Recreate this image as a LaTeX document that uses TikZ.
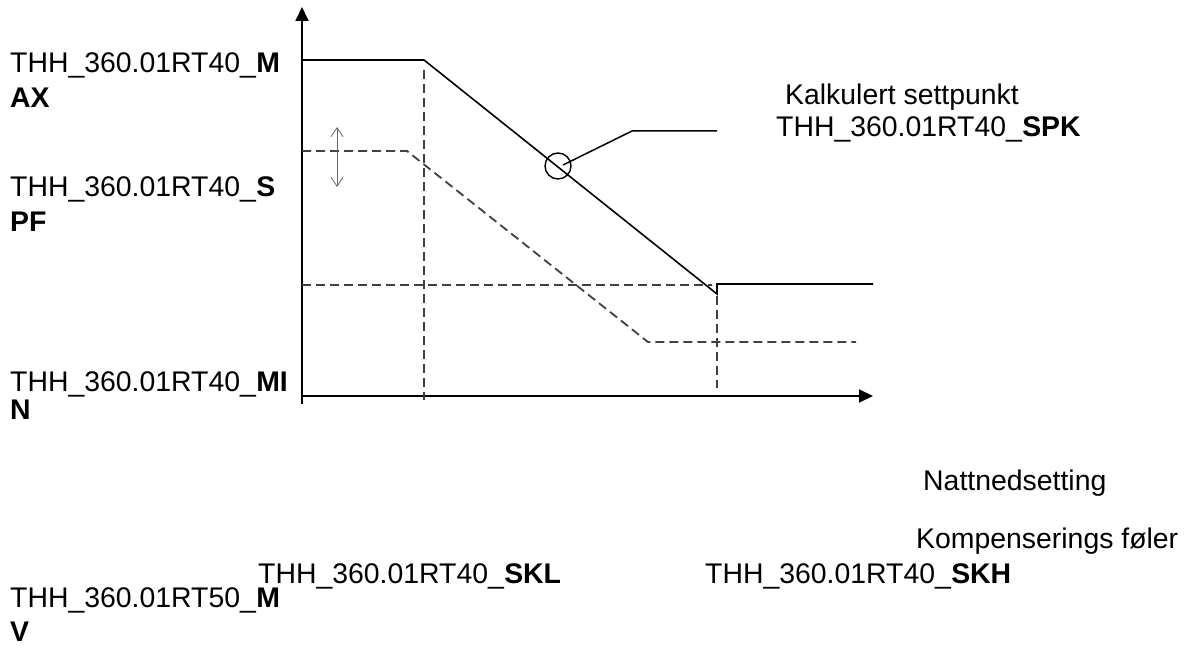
\documentclass[tikz,border=0pt]{standalone}
\usepackage{fontspec}
\setmainfont{Liberation Sans}
\usetikzlibrary{arrows.meta}
\begin{document}
\begin{tikzpicture}[x=1pt,y=-1pt,
  lbl/.style={anchor=base west,inner sep=0pt,font=\fontsize{28.4}{34}\selectfont},
  solidln/.style={line width=1.6pt,black},
  dashln/.style={line width=1.8pt,black!75,dash pattern=on 9pt off 5pt},
  axisln/.style={line width=1.8pt,-{Triangle[length=14pt,width=13pt]}},
  adjarrow/.style={line width=0.8pt,black!60,{Straight Barb[length=9pt,width=12pt]}-{Straight Barb[length=9pt,width=12pt]}}]
\useasboundingbox (0,0) rectangle (1197,652);
% axes
\coordinate (O) at (302,396);
\coordinate (ytop) at (302,7);
\coordinate (ybot) at (302,404);
\coordinate (xend) at (873,396);
\draw[axisln] (ybot) -- (ytop);
\draw[axisln] (O) -- (xend);
% calculated setpoint (solid)
\coordinate (s1) at (302,60);
\coordinate (s2) at (424,60);
\coordinate (s3) at (717,294);
\coordinate (s4) at (717,284);
\coordinate (s5) at (873,284);
\draw[solidln] (s1) -- (s2) -- (s3) -- (s4) -- (s5);
% shifted setpoint (dashed)
\coordinate (d1) at (302,151);
\coordinate (d2) at (407,151);
\coordinate (d3) at (648,342);
\coordinate (d4) at (856,342);
\draw[dashln] (d1) -- (d2) -- (d3) -- (d4);
% helper dashed lines
\coordinate (h1) at (302,285);
\coordinate (h2) at (712,285);
\draw[dashln] (h1) -- (h2);
\coordinate (v1a) at (424,70);
\coordinate (v1b) at (424,400);
\draw[dashln] (v1a) -- (v1b);
\coordinate (v2a) at (717,296);
\coordinate (v2b) at (717,388);
\draw[dashln] (v2a) -- (v2b);
% adjustment arrow
\coordinate (a1) at (337,127);
\coordinate (a2) at (337,187);
\draw[adjarrow] (a1) -- (a2);
% marker circle and leader
\node[draw,circle,line width=1.4pt,minimum size=26pt,inner sep=0pt] (mark) at (558,166) {};
\coordinate (l1) at (563,165);
\coordinate (l2) at (632,131);
\coordinate (l3) at (717,131);
\draw[line width=1.5pt] (l1) -- (l2) -- (l3);
% labels
\node[lbl] (maxa) at (10,73) {THH\_360.01RT40\_\textbf{M}};
\node[lbl] (maxb) at (10,108) {\textbf{AX}};
\node[lbl] (spfa) at (10,197) {THH\_360.01RT40\_\textbf{S}};
\node[lbl] (spfb) at (10,232) {\textbf{PF}};
\node[lbl] (mina) at (10,391) {THH\_360.01RT40\_\textbf{MI}};
\node[lbl] (minb) at (10,419) {\textbf{N}};
\node[lbl] (kalk) at (785,105) {Kalkulert settpunkt};
\node[lbl] (spk) at (776,137) {THH\_360.01RT40\_\textbf{SPK}};
\node[lbl] (natt) at (923,490) {Nattnedsetting};
\node[lbl] (komp) at (916,548) {Kompenserings føler};
\node[lbl] (skl) at (258,583) {THH\_360.01RT40\_\textbf{SKL}};
\node[lbl] (skh) at (705,583) {THH\_360.01RT40\_\textbf{SKH}};
\node[lbl] (mva) at (10,607) {THH\_360.01RT50\_\textbf{M}};
\node[lbl] (mvb) at (10,641) {\textbf{V}};
\end{tikzpicture}
\end{document}
